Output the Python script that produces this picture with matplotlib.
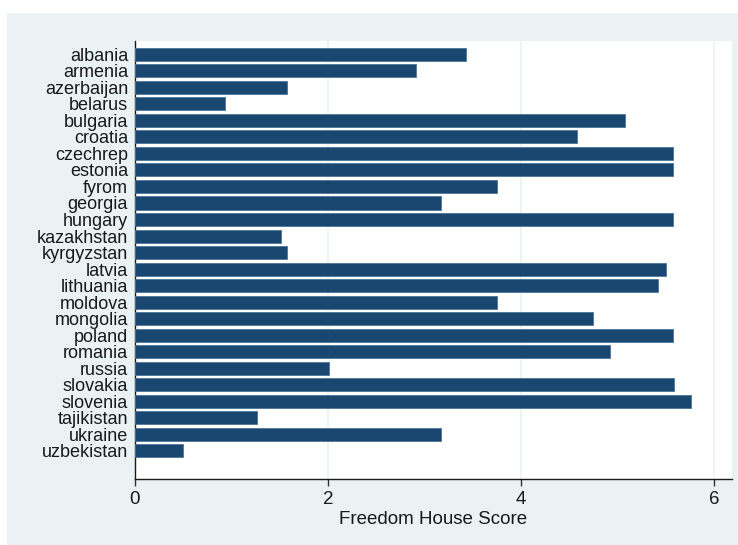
import matplotlib
matplotlib.use("Agg")
import matplotlib.pyplot as plt
from matplotlib.font_manager import fontManager
from matplotlib.patches import Rectangle

countries = ["albania", "armenia", "azerbaijan", "belarus", "bulgaria", "croatia",
             "czechrep", "estonia", "fyrom", "georgia", "hungary", "kazakhstan",
             "kyrgyzstan", "latvia", "lithuania", "moldova", "mongolia", "poland",
             "romania", "russia", "slovakia", "slovenia", "tajikistan", "ukraine",
             "uzbekistan"]
scores = [3.43, 2.91, 1.58, 0.93, 5.08, 4.58,
          5.58, 5.58, 3.75, 3.17, 5.58, 1.51,
          1.58, 5.50, 5.42, 3.75, 4.75, 5.58,
          4.92, 2.01, 5.59, 5.76, 1.26, 3.17,
          0.50]
xticks = [0, 2, 4, 6]
xlabel = "Freedom House Score"

names = {f.name for f in fontManager.ttflist}
family = ["Liberation Sans Narrow" if "Liberation Sans Narrow" in names else "Liberation Sans",
          "DejaVu Sans"]
plt.rcParams["font.family"] = family

W, H = 738, 545
fig = plt.figure(figsize=(W / 100, H / 100), dpi=100, facecolor="white")

# light graph region behind the plot
fig.patches.append(Rectangle((7 / W, 0), 1 - 7 / W, 1 - 13 / H,
                             transform=fig.transFigure, facecolor="#eaf2f3",
                             edgecolor="none", zorder=-5))

left, right, top, bottom = 135, 732, 41, 479
ax = fig.add_axes([left / W, 1 - bottom / H, (right - left) / W, (bottom - top) / H])
ax.set_zorder(1)
ax.set_facecolor("white")

pos = list(range(len(countries)))
ax.barh(pos, scores, height=0.79, color="#1a476f", edgecolor="#4f7597",
        linewidth=0.6, zorder=3)

ax.set_xlim(0, (right - left) / 96.5)
ax.set_ylim(len(countries) - 1 + 1.7, -0.8)

ax.set_xticks(xticks)
ax.set_xticklabels([str(t) for t in xticks], fontsize=13.5, color="#1a1a1a")
ax.set_yticks(pos)
ax.set_yticklabels(countries, fontsize=13, color="#1a1a1a")
ax.tick_params(axis="y", length=0, pad=5)
ax.tick_params(axis="x", length=5, width=1, color="#333333", pad=4)

for t in xticks[1:]:
    ax.axvline(t, color="#eaf2f3", linewidth=1.2, zorder=1)

for side in ["top", "right"]:
    ax.spines[side].set_visible(False)
ax.spines["left"].set_color("#1a1a1a")
ax.spines["bottom"].set_color("#1a1a1a")
ax.spines["left"].set_linewidth(1)
ax.spines["bottom"].set_linewidth(1)

ax.set_xlabel(xlabel, fontsize=13.5, color="#1a1a1a", labelpad=2)

fig.savefig("out.png", dpi=100, facecolor="white")
